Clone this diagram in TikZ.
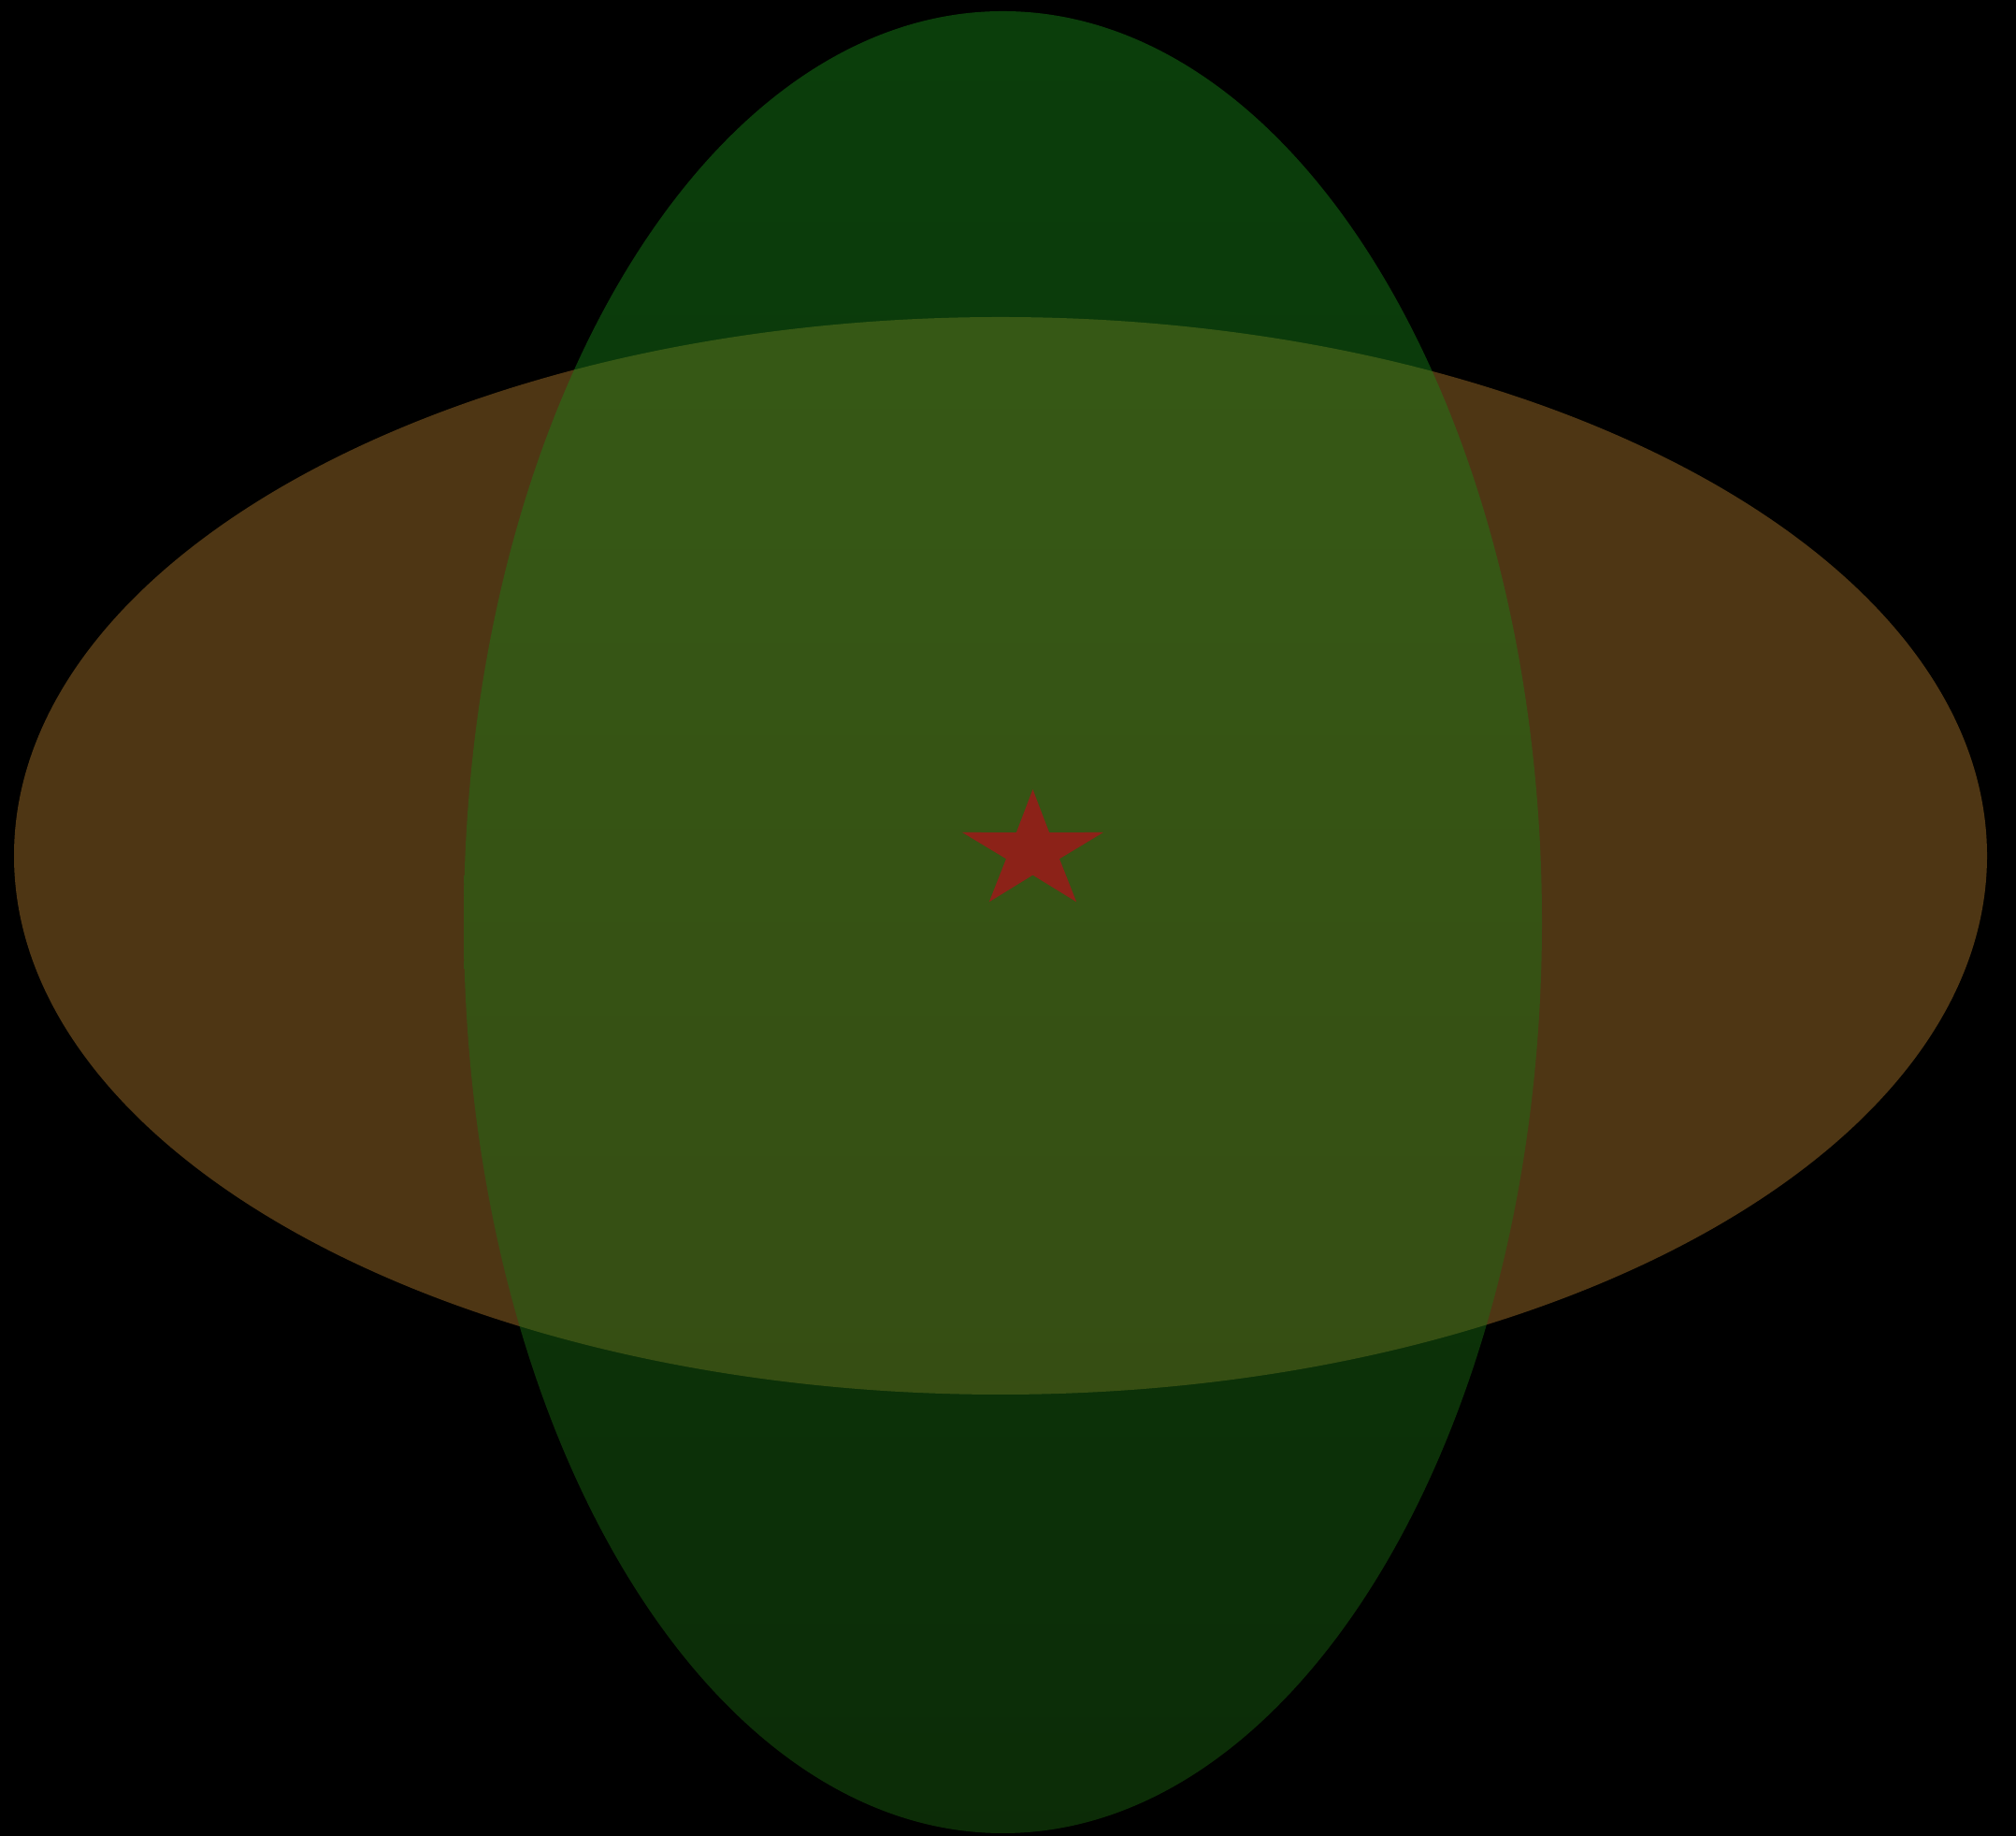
\documentclass[tikz,border=0pt]{standalone}
\usepackage{xcolor}
\usepackage{tikz}
\definecolor{mybrown}{RGB}{78,54,20}
\definecolor{mygreentop}{RGB}{26,137,26}
\definecolor{mygreenbot}{RGB}{28,98,17}
\definecolor{myred}{RGB}{140,34,24}

\begin{document}
\begin{tikzpicture}
        % Background
        \fill[black] (0,0) rectangle (21.56,19.63);
        \useasboundingbox (0,0) rectangle (21.56,19.63);
        % Horizontal ellipse
        \fill[mybrown] (10.70,10.48) ellipse [x radius=10.55, y radius=5.76];
        % Vertical ellipse
        \shade[top color=mygreentop, bottom color=mygreenbot, fill opacity=0.46]
              (10.725,9.77) ellipse [x radius=5.765, y radius=9.74];
        % Star
        \begin{scope}[shift={(11.045,10.525)}, yscale=0.838]
          \fill[myred] (90:0.794) foreach \a in {126,198,270,342,54} { -- (\a:0.30) -- (\a+36:0.794) } -- cycle;
        \end{scope}
      \end{tikzpicture}
\end{document}
